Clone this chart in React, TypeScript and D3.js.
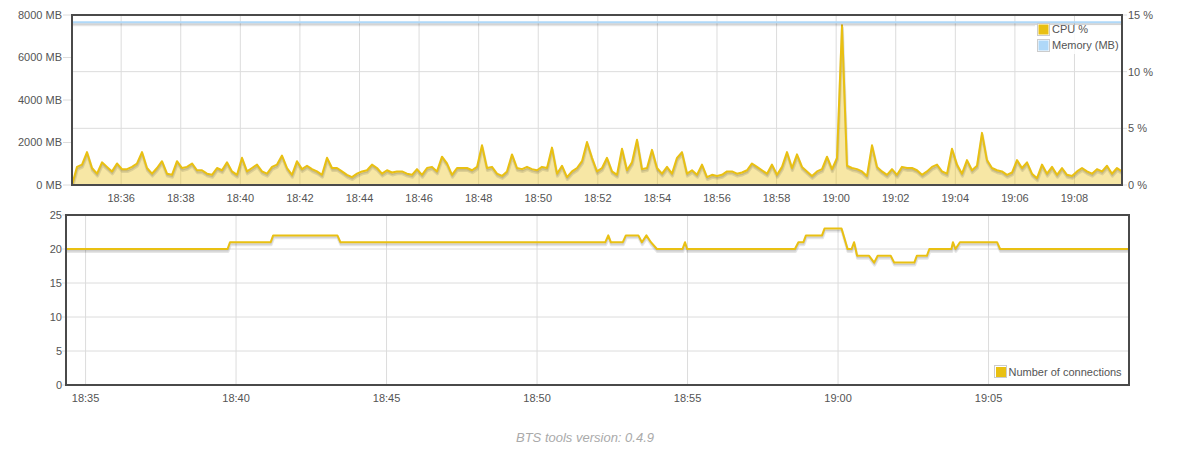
import React from "react";
import * as d3 from "d3";

// ---------- data ----------
const CPU_START = "18:34:21";
const CPU_STEP_SECONDS = 10.07;
const CPU_PERCENT = [
  0, 1.6, 1.8, 2.9, 1.5, 1.0, 2.0, 1.6, 1.2, 1.9, 1.4, 1.4, 1.6, 1.9, 2.9, 1.5, 1.0, 1.5, 2.1, 1.0,
  0.9, 2.1, 1.5, 1.6, 1.9, 1.3, 1.3, 1.0, 0.9, 1.5, 1.3, 2.0, 1.2, 0.9, 2.4, 1.2, 1.5, 1.8, 1.2, 1.0,
  1.6, 1.8, 2.6,
  1.5, 0.9, 2.1, 1.4, 1.7, 1.4, 1.2, 0.9, 2.4, 1.5, 1.5, 1.2, 0.9, 0.7, 1.0, 1.2, 1.3, 1.8, 1.5, 1.0,
  1.3, 1.1, 1.2, 1.2, 1.0, 0.9, 1.4, 0.9, 1.5, 1.6, 1.2, 2.5, 1.9, 0.9, 1.5, 1.5, 1.5, 1.3, 1.6, 3.5,
  1.5, 1.6,
  1.0, 0.8, 1.2, 2.7, 1.5, 1.4, 1.6, 1.4, 1.3, 1.6, 1.5, 3.3, 1.0, 1.7, 0.7, 1.2, 1.5, 2.1, 3.8, 2.4,
  1.2, 1.5, 2.4, 1.2, 0.9, 3.2, 1.3, 2.0, 4.0, 1.4, 1.5, 3.1, 1.5, 1.0, 1.6, 1.0, 2.4, 2.9, 1.0, 1.3,
  0.9, 1.8,
  0.7, 0.9, 0.8, 0.9, 1.2, 1.2, 1.0, 1.1, 1.3, 1.9, 1.6, 1.3, 1.0, 1.8, 0.9, 1.6, 2.9, 1.5, 2.7, 1.6,
  1.2, 0.8, 1.2, 1.4, 2.5, 1.4, 2.4, 14.1, 1.7, 1.5, 1.4, 1.2, 0.8, 3.5, 1.6, 1.2, 0.9, 1.4, 0.9, 1.6,
  1.5, 1.5,
  1.3, 0.9, 1.2, 1.6, 1.8, 1.2, 1.0, 3.2, 1.8, 1.0, 2.2, 1.3, 1.7, 4.6, 2.2, 1.5, 1.3, 1.2, 0.9, 1.1,
  2.2, 1.5, 2.0, 1.0, 0.6, 1.8, 1.0, 1.6, 0.9, 1.5, 0.9, 0.8, 1.2, 1.5, 1.2, 1.0, 1.4, 1.2, 1.7, 1.0,
  1.5, 1.2,
];

const MEMORY_TIMES = ["18:34:21", "18:40:00", "18:45:00", "18:50:00", "18:55:00", "19:00:00", "19:05:00", "19:09:36"];
const MEMORY_MB = [7660, 7660, 7660, 7660, 7660, 7660, 7660, 7660];

const CONN_TIMES = [
  "18:34:21", "18:39:43", "18:39:48", "18:41:09", "18:41:14", "18:43:22", "18:43:28",
  "18:52:16", "18:52:22", "18:52:27", "18:52:51", "18:52:57", "18:53:22", "18:53:29",
  "18:53:38", "18:53:47", "18:53:59", "18:54:50", "18:54:55", "18:54:59",
  "18:58:34", "18:58:41", "18:58:51", "18:58:56", "18:59:28", "18:59:33",
  "19:00:07", "19:00:19", "19:00:27", "19:00:32", "19:00:38", "19:01:02", "19:01:12", "19:01:19",
  "19:01:45", "19:01:52", "19:02:32", "19:02:37", "19:02:57", "19:03:02", "19:03:46", "19:03:49",
  "19:03:54", "19:04:03", "19:05:17", "19:05:23", "19:09:40",
];
const CONN_VALUES = [
  20, 20, 21, 21, 22, 22, 21,
  21, 22, 21, 21, 22, 22, 21,
  22, 21, 20, 20, 21, 20,
  20, 21, 21, 22, 22, 23,
  23, 20, 20, 21, 19, 19, 18, 19,
  19, 18, 18, 19, 19, 20, 20, 21,
  20, 21, 21, 20, 20,
];

const MB_TICKS = [0, 2000, 4000, 6000, 8000];
const PCT_TICKS = [0, 5, 10, 15];
const CONN_TICKS = [0, 5, 10, 15, 20, 25];
const TOP_LEGEND = ["CPU %", "Memory (MB)"];
const BOTTOM_LEGEND = ["Number of connections"];
const VERSION_TEXT = "BTS tools version: 0.4.9";

// ---------- styles ----------
const YELLOW = "#e9c012";
const YELLOW_FILL = "rgba(233,192,18,0.38)";
const BLUE = "#afd8f8";
const GRID = "#dcdcdc";
const BORDER = "#4a4a4a";
const LABEL = "#545454";
const FONT = "'Liberation Sans', Arial, Helvetica, sans-serif";

const parseTime = (s: string) => {
  const [h, m, sec] = s.split(":").map(Number);
  return new Date(new Date(2015, 0, 1, h, m, 0, 0).getTime() + sec * 1000);
};

const fmt = d3.timeFormat("%H:%M");

function Shadowed({ d, color, width }: { d: string; color: string; width: number }) {
  const a = Math.PI / 18;
  const sw = 3;
  return (
    <g fill="none" strokeLinejoin="round">
      <path d={d} stroke="rgba(0,0,0,0.1)" strokeWidth={sw}
        transform={`translate(${Math.sin(a) * (width / 2 + sw / 2)},${Math.cos(a) * (width / 2 + sw / 2)})`} />
      <path d={d} stroke="rgba(0,0,0,0.1)" strokeWidth={sw / 2}
        transform={`translate(${Math.sin(a) * (width / 2 + sw / 4)},${Math.cos(a) * (width / 2 + sw / 4)})`} />
      <path d={d} stroke={color} strokeWidth={width} />
    </g>
  );
}

export default function App() {
  // ---- top chart ----
  const T = { l: 72, r: 1122, t: 15, b: 185 };
  const cpuStart = parseTime(CPU_START);
  const cpu = CPU_PERCENT.map((v, i) => ({ t: new Date(cpuStart.getTime() + i * CPU_STEP_SECONDS * 1000), v }));
  const mem = MEMORY_TIMES.map((s, i) => ({ t: parseTime(s), v: MEMORY_MB[i] }));
  const x1 = d3.scaleTime().domain([cpu[0].t, cpu[cpu.length - 1].t]).range([T.l, T.r]);
  const yMB = d3.scaleLinear().domain([0, 8000]).range([T.b, T.t]);
  const yPct = d3.scaleLinear().domain([0, 15]).range([T.b, T.t]);
  const cpuArea = d3.area<{ t: Date; v: number }>().x((d) => x1(d.t)).y0(T.b).y1((d) => yPct(d.v))(cpu) || "";
  const cpuLine = d3.line<{ t: Date; v: number }>().x((d) => x1(d.t)).y((d) => yPct(d.v))(cpu) || "";
  const memLine = d3.line<{ t: Date; v: number }>().x((d) => x1(d.t)).y((d) => yMB(d.v))(mem) || "";
  const x1Ticks = x1.ticks(d3.timeMinute.every(2) as any);

  // ---- bottom chart ----
  const B = { l: 66, r: 1129, t: 215, b: 385 };
  const conn = CONN_TIMES.map((s, i) => ({ t: parseTime(s), v: CONN_VALUES[i] }));
  const x2 = d3.scaleTime().domain(d3.extent(conn, (d) => d.t) as [Date, Date]).range([B.l, B.r]);
  const y2 = d3.scaleLinear().domain([0, 25]).range([B.b, B.t]);
  const connLine = d3.line<{ t: Date; v: number }>().x((d) => x2(d.t)).y((d) => y2(d.v))(conn) || "";
  const x2Ticks = x2.ticks(d3.timeMinute.every(5) as any);

  return (
    <svg width={1178} height={449} style={{ position: "absolute", left: 0, top: 0, background: "#fff" }}
      fontFamily={FONT} fontSize={11}>
      <defs>
        <clipPath id="clipTop"><rect x={T.l} y={T.t - 2} width={T.r - T.l} height={T.b - T.t + 2} /></clipPath>
        <clipPath id="clipBot"><rect x={B.l} y={B.t} width={B.r - B.l} height={B.b - B.t} /></clipPath>
      </defs>

      {/* ===== top chart ===== */}
      <g>
        {x1Ticks.map((t, i) => (
          <line key={"vx" + i} x1={x1(t)} x2={x1(t)} y1={T.t} y2={T.b} stroke={GRID} />
        ))}
        {PCT_TICKS.slice(1, -1).map((v) => (
          <line key={"hp" + v} x1={T.l} x2={T.r} y1={yPct(v)} y2={yPct(v)} stroke={GRID} />
        ))}
        {MB_TICKS.map((v) => (
          <line key={"tm" + v} x1={T.l - 9} x2={T.l} y1={yMB(v)} y2={yMB(v)} stroke={GRID} />
        ))}
        {PCT_TICKS.map((v) => (
          <line key={"tp" + v} x1={T.r} x2={T.r + 5} y1={yPct(v)} y2={yPct(v)} stroke={GRID} />
        ))}
        <g clipPath="url(#clipTop)">
          <path d={cpuArea} fill={YELLOW_FILL} />
          <Shadowed d={cpuLine} color={YELLOW} width={2} />
          <Shadowed d={memLine} color={BLUE} width={2} />
        </g>
        <rect x={T.l} y={T.t} width={T.r - T.l} height={T.b - T.t} fill="none" stroke={BORDER} strokeWidth={2} />
        {MB_TICKS.map((v) => (
          <text key={"lm" + v} x={62} y={yMB(v)} dy="0.35em" textAnchor="end" fill={LABEL}>{`${v} MB`}</text>
        ))}
        {PCT_TICKS.map((v) => (
          <text key={"lp" + v} x={1128} y={yPct(v)} dy="0.35em" textAnchor="start" fill={LABEL}>{`${v} %`}</text>
        ))}
        {x1Ticks.map((t, i) => (
          <text key={"lx" + i} x={x1(t)} y={198} dy="0.35em" textAnchor="middle" fill={LABEL}>{fmt(t)}</text>
        ))}
        {/* legend */}
        <rect x={1035} y={25} width={86} height={29} fill="#fff" opacity={0.85} />
        {TOP_LEGEND.map((name, i) => (
          <g key={name} transform={`translate(0,${i * 16})`}>
            <rect x={1037.5} y={23.5} width={12} height={12} fill="#fff" stroke="#ccc" />
            <rect x={1038.5} y={24.5} width={10} height={10} fill={i === 0 ? YELLOW : BLUE} />
            <text x={1052} y={29.5} dy="0.35em" fill={LABEL}>{name}</text>
          </g>
        ))}
      </g>

      {/* ===== bottom chart ===== */}
      <g>
        {x2Ticks.map((t, i) => (
          <line key={"bvx" + i} x1={x2(t)} x2={x2(t)} y1={B.t} y2={B.b} stroke={GRID} />
        ))}
        {CONN_TICKS.slice(1, -1).map((v) => (
          <line key={"bh" + v} x1={B.l} x2={B.r} y1={y2(v)} y2={y2(v)} stroke={GRID} />
        ))}
        {CONN_TICKS.map((v) => (
          <line key={"bt" + v} x1={B.l - 4} x2={B.l} y1={y2(v)} y2={y2(v)} stroke={GRID} />
        ))}
        <g clipPath="url(#clipBot)">
          <Shadowed d={connLine} color={YELLOW} width={2} />
        </g>
        <rect x={B.l} y={B.t} width={B.r - B.l} height={B.b - B.t} fill="none" stroke={BORDER} strokeWidth={2} />
        {CONN_TICKS.map((v) => (
          <text key={"bl" + v} x={62} y={y2(v)} dy="0.35em" textAnchor="end" fill={LABEL}>{v}</text>
        ))}
        {x2Ticks.map((t, i) => (
          <text key={"bx" + i} x={x2(t)} y={398} dy="0.35em" textAnchor="middle" fill={LABEL}>{fmt(t)}</text>
        ))}
        {BOTTOM_LEGEND.map((name) => (
          <g key={name}>
            <rect x={992} y={363} width={134} height={18} fill="#fff" opacity={0.85} />
            <rect x={994.5} y={365.5} width={12} height={12} fill="#fff" stroke="#ccc" />
            <rect x={996} y={367} width={10} height={10} fill={YELLOW} />
            <text x={1008.5} y={372} dy="0.35em" fill={LABEL}>{name}</text>
          </g>
        ))}
      </g>

      <text x={585} y={437} dy="0.35em" textAnchor="middle" fontStyle="italic" fontSize={13} fill="#aaaaaa">
        {VERSION_TEXT}
      </text>
    </svg>
  );
}
